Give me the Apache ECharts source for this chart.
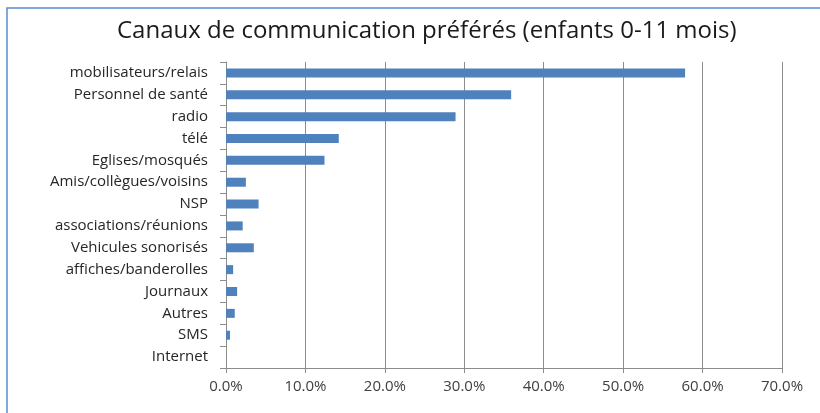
<!DOCTYPE html>
<html>
<head>
<meta charset="utf-8">
<script src="https://cdn.jsdelivr.net/npm/echarts@6/dist/echarts.min.js"></script>
<style>
html,body{margin:0;padding:0;background:#fff;}
#c{width:820px;height:413px;}
</style>
</head>
<body>
<div id="c"></div>
<script>
const titleText = 'Canaux de communication préférés (enfants 0-11 mois)';
const categories = ['mobilisateurs/relais','Personnel de santé','radio','télé','Eglises/mosqués','Amis/collègues/voisins','NSP','associations/réunions','Vehicules sonorisés','affiches/banderolles','Journaux','Autres','SMS','Internet'];
const values = [57.8, 35.9, 28.9, 14.2, 12.4, 2.5, 4.1, 2.1, 3.5, 0.9, 1.4, 1.1, 0.5, 0];
const xTicks = [0, 10, 20, 30, 40, 50, 60, 70];

const chart = echarts.init(document.getElementById('c'), null, {renderer: 'canvas'});
const font = '"Open Sans", Lato, sans-serif';
chart.setOption({
  animation: false,
  backgroundColor: '#ffffff',
  title: {
    text: titleText,
    left: 112,
    top: 14,
    textStyle: {fontFamily: font, fontSize: 24, fontWeight: 'normal', color: '#1a1a1a'}
  },
  graphic: [{
    type: 'rect',
    shape: {x: 7, y: 8, width: 830, height: 430},
    style: {fill: 'none', stroke: '#5b8bd4', lineWidth: 1.5},
    silent: true
  }],
  grid: {left: 226, right: 38, top: 62, bottom: 45, containLabel: false},
  xAxis: {
    type: 'value',
    min: xTicks[0],
    max: xTicks[xTicks.length - 1],
    interval: 10,
    axisLine: {show: true, lineStyle: {color: '#8c8c8c', width: 1}},
    axisTick: {show: true, length: 5, lineStyle: {color: '#8c8c8c'}},
    splitLine: {show: true, lineStyle: {color: '#8c8c8c', width: 1}},
    axisLabel: {
      margin: 11,
      fontFamily: font, fontSize: 15, color: '#404040',
      formatter: v => v.toFixed(1) + '%'
    }
  },
  yAxis: {
    type: 'category',
    inverse: true,
    data: categories,
    axisLine: {show: true, lineStyle: {color: '#8c8c8c', width: 1}},
    axisTick: {show: true, length: 6, lineStyle: {color: '#8c8c8c'}},
    axisLabel: {margin: 18, fontFamily: font, fontSize: 15, color: '#262626'}
  },
  series: [{
    type: 'bar',
    data: values,
    barWidth: 9,
    itemStyle: {color: '#4f81bd'}
  }]
});
</script>
</body>
</html>
